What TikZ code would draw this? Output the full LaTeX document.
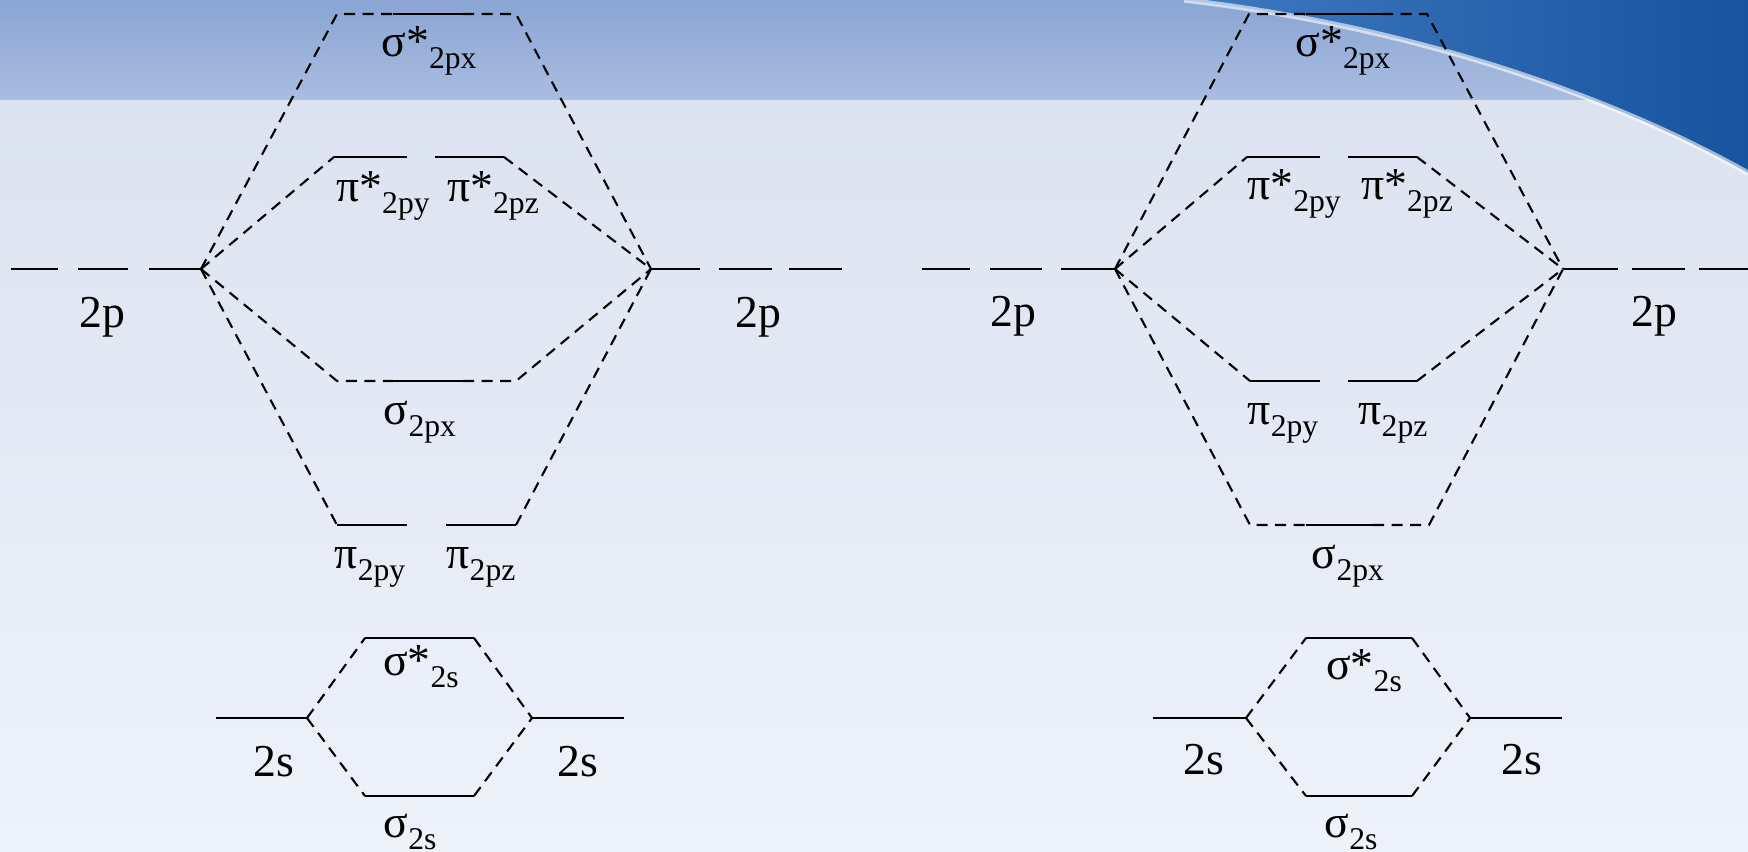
\documentclass[tikz,border=0pt]{standalone}
\usepackage{fontspec}
\setmainfont{Liberation Serif}
\usetikzlibrary{positioning}
\definecolor{bandtop}{HTML}{8AA5D3}
\definecolor{bandbot}{HTML}{A9BDE0}
\definecolor{paletop}{HTML}{DCE3F0}
\definecolor{palebot}{HTML}{EEF2FB}
\definecolor{wavedk}{HTML}{17539F}
\definecolor{wavelt}{HTML}{3F79C0}
\newcommand{\orbl}[2]{#1\raisebox{-3.2pt}{\fontsize{9pt}{9pt}\selectfont #2}}

\begin{document}
\begin{tikzpicture}[x=0.1mm, y=-0.1mm,
        lvl/.style={line width=0.75pt},
        link/.style={line width=0.6pt, dash pattern=on 1.1mm off 0.75mm},
        lbl/.style={inner sep=0pt, anchor=base, font=\fontsize{13pt}{15pt}\selectfont}
    ]
        % Background
        \useasboundingbox (0,0) rectangle (1748,852);
        \shade[top color=paletop, bottom color=palebot] (0,100) rectangle (1748,852);
        \shade[top color=bandtop, bottom color=bandbot] (0,0) rectangle (1748,100);
        \shade[left color=wavelt, right color=wavedk] (1184,0) .. controls (1400,25) and (1600,90) .. (1748,173) -- (1748,0) -- cycle;
        \draw[white, opacity=0.6, line width=1.5pt] (1184,0) .. controls (1400,25) and (1600,90) .. (1748,173);

        % Left: atomic 2p and 2s levels
        \foreach \a/\b in {11/58, 78/128, 149/201, 651/700, 719/772, 789/842}
            \draw[lvl] (\a,269) -- (\b,269);
        \coordinate (apL) at (201,269);
        \coordinate (apR) at (651,269);
        \draw[lvl] (216,718) -- (307,718) coordinate (asL);
        \draw[lvl] (532,718) coordinate (asR) -- (624,718);

        % Left: molecular levels
        \draw[lvl] (393,14) coordinate (sxsA) -- (463,14) coordinate (sxsB);
        \draw[lvl] (334,157) coordinate (pysA) -- (407,157);
        \draw[lvl] (435,157) -- (504,157) coordinate (pzsB);
        \draw[lvl] (393,381) coordinate (sxA) -- (463,381) coordinate (sxB);
        \draw[lvl] (337,525) coordinate (pyA) -- (407,525);
        \draw[lvl] (446,525) -- (516,525) coordinate (pzB);
        \draw[lvl] (365,638) coordinate (ssA) -- (474,638) coordinate (ssB);
        \draw[lvl] (365,796) coordinate (sA) -- (474,796) coordinate (sB);

        % Left: correlation lines
        \draw[link] (apL) -- (337,14) -- (sxsA);
        \draw[link] (sxsB) -- (516,14) -- (apR);
        \draw[link] (apL) -- (pysA);
        \draw[link] (pzsB) -- (apR);
        \draw[link] (apL) -- (337,381) -- (sxA);
        \draw[link] (sxB) -- (516,381) -- (apR);
        \draw[link] (apL) -- (pyA);
        \draw[link] (pzB) -- (apR);
        \draw[link] (asL) -- (ssA);
        \draw[link] (ssB) -- (asR);
        \draw[link] (asL) -- (sA);
        \draw[link] (sB) -- (asR);

        % Left: labels
        \node[lbl] (tapL) at (102,328) {2p};
        \node[lbl] (tapR) at (758,328) {2p};
        \node[lbl] (tasL) at (274,777) {2s};
        \node[lbl] (tasR) at (578,777) {2s};
        \node[lbl] (tsxs) at (429,57) {\orbl{σ*}{2px}};
        \node[lbl] (tpys) at (383,202) {\orbl{π*}{2py}};
        \node[lbl] (tpzs) at (493,202) {\orbl{π*}{2pz}};
        \node[lbl] (tsx) at (420,425) {\orbl{σ}{2px}};
        \node[lbl] (tpy) at (370,569) {\orbl{π}{2py}};
        \node[lbl] (tpz) at (481,569) {\orbl{π}{2pz}};
        \node[lbl] (tss) at (421,676) {\orbl{σ*}{2s}};
        \node[lbl] (ts) at (410,838) {\orbl{σ}{2s}};

        % Right: atomic 2p and 2s levels
        \foreach \a/\b in {922/970, 990/1042, 1061/1115, 1563/1618, 1632/1685, 1699/1748}
            \draw[lvl] (\a,269) -- (\b,269);
        \coordinate (bpL) at (1115,269);
        \coordinate (bpR) at (1563,269);
        \draw[lvl] (1153,718) -- (1246,718) coordinate (bsL);
        \draw[lvl] (1470,718) coordinate (bsR) -- (1562,718);

        % Right: molecular levels
        \draw[lvl] (1306,14) coordinate (bsxsA) -- (1382,14) coordinate (bsxsB);
        \draw[lvl] (1247,157) coordinate (bpysA) -- (1320,157);
        \draw[lvl] (1348,157) -- (1417,157) coordinate (bpzsB);
        \draw[lvl] (1250,381) coordinate (bpyA) -- (1320,381);
        \draw[lvl] (1348,381) -- (1417,381) coordinate (bpzB);
        \draw[lvl] (1306,525) coordinate (bsxA) -- (1373,525) coordinate (bsxB);
        \draw[lvl] (1306,638) coordinate (bssA) -- (1412,638) coordinate (bssB);
        \draw[lvl] (1306,796) coordinate (bsA) -- (1412,796) coordinate (bsB);

        % Right: correlation lines
        \draw[link] (bpL) -- (1249,14) -- (bsxsA);
        \draw[link] (bsxsB) -- (1427,14) -- (bpR);
        \draw[link] (bpL) -- (bpysA);
        \draw[link] (bpzsB) -- (bpR);
        \draw[link] (bpL) -- (bpyA);
        \draw[link] (bpzB) -- (bpR);
        \draw[link] (bpL) -- (1250,525) -- (bsxA);
        \draw[link] (bsxB) -- (1429,525) -- (bpR);
        \draw[link] (bsL) -- (bssA);
        \draw[link] (bssB) -- (bsR);
        \draw[link] (bsL) -- (bsA);
        \draw[link] (bsB) -- (bsR);

        % Right: labels
        \node[lbl] (tbpL) at (1013,327) {2p};
        \node[lbl] (tbpR) at (1654,327) {2p};
        \node[lbl] (tbsL) at (1204,775) {2s};
        \node[lbl] (tbsR) at (1522,775) {2s};
        \node[lbl] (tbsxs) at (1343,57) {\orbl{σ*}{2px}};
        \node[lbl] (tbpys) at (1294,200) {\orbl{π*}{2py}};
        \node[lbl] (tbpzs) at (1407,200) {\orbl{π*}{2pz}};
        \node[lbl] (tbpy) at (1283,425) {\orbl{π}{2py}};
        \node[lbl] (tbpz) at (1393,425) {\orbl{π}{2pz}};
        \node[lbl] (tbsx) at (1348,569) {\orbl{σ}{2px}};
        \node[lbl] (tbss) at (1364,680) {\orbl{σ*}{2s}};
        \node[lbl] (tbs) at (1351,838) {\orbl{σ}{2s}};
    \end{tikzpicture}
\end{document}
